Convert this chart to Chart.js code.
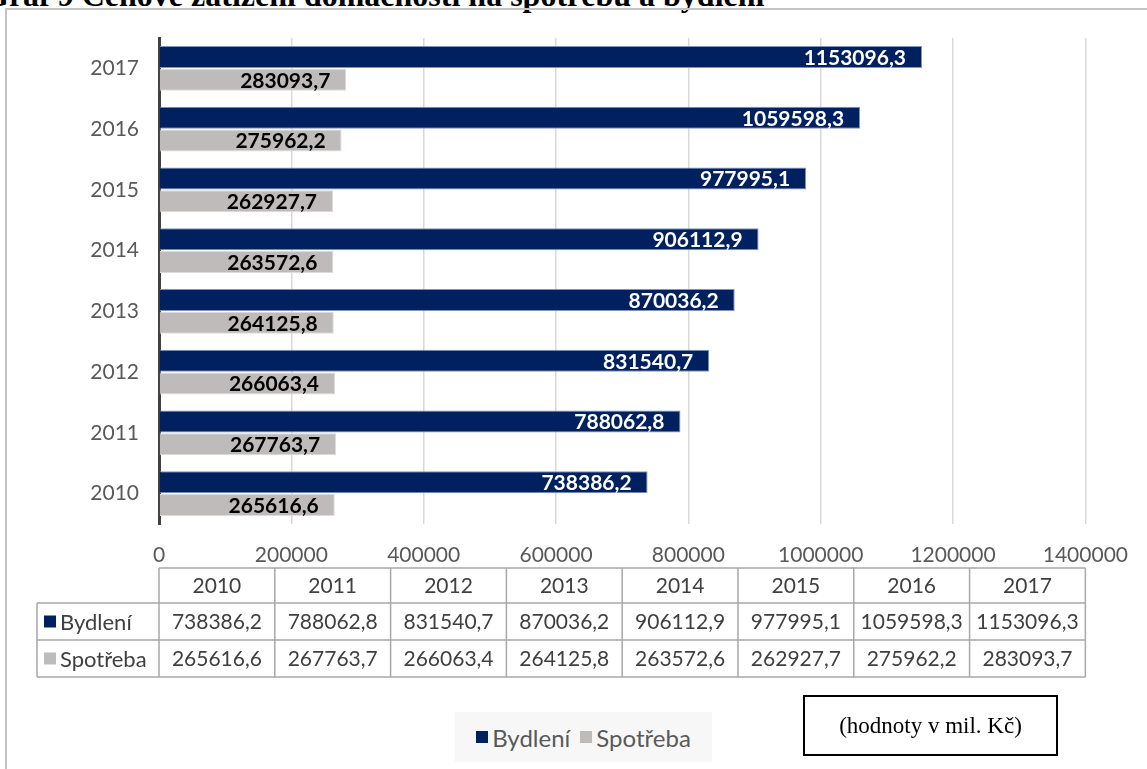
<!DOCTYPE html>
<html>
<head>
<meta charset="utf-8">
<script src="https://cdn.jsdelivr.net/npm/chart.js@4"></script>
<style>
  html, body { margin: 0; padding: 0; background: #fff; }
  body { width: 1147px; height: 769px; position: relative; overflow: hidden; }
  #frame { position: absolute; left: 5px; top: 8px; width: 1160px; height: 780px;
           border-left: 2px solid #c4c4c4; border-top: 2px solid #c4c4c4; }
  #title { position: absolute; left: -16px; top: -23px; white-space: nowrap; line-height: 32px;
           font: bold 32px "Liberation Serif", "Times New Roman", serif; color: #000; }
  #chart { position: absolute; left: 0; top: 0; }
  #legend { position: absolute; left: 455px; top: 712px; width: 257px; height: 50px;
            background: #f7f7f7; display: flex; align-items: center; justify-content: center;
            font: 24px Lato, sans-serif; color: #595959; }
  #legend span.key { display: inline-block; width: 12px; height: 12px; margin-right: 4px; }
  #legend span.item { margin: 0 5px; display: inline-flex; align-items: center; }
  #note { position: absolute; left: 803px; top: 695px; width: 251px; height: 57px;
          border: 2px solid #000; display: flex; align-items: center; justify-content: center;
          font: 23px "Liberation Serif", "Times New Roman", serif; color: #000; }
</style>
</head>
<body>
<div id="title">Graf 9 Cenové zatížení domácností na spotřebu a bydlení</div>
<div id="frame"></div>
<canvas id="chart" width="1147" height="769"></canvas>
<div id="legend"></div>
<div id="note">(hodnoty v mil. Kč)</div>
<script>
  var years = ['2010', '2011', '2012', '2013', '2014', '2015', '2016', '2017'];
  var bydleni = [738386.2, 788062.8, 831540.7, 870036.2, 906112.9, 977995.1, 1059598.3, 1153096.3];
  var spotreba = [265616.6, 267763.7, 266063.4, 264125.8, 263572.6, 262927.7, 275962.2, 283093.7];
  var xTicks = [0, 200000, 400000, 600000, 800000, 1000000, 1200000, 1400000];

  var navy = '#002060';
  var grey = '#bfbbbb';
  var font = 'Lato, sans-serif';

  // Czech decimal comma
  function fmt(v) { return v.toFixed(1).replace('.', ','); }

  // value labels inside bar ends
  var barLabels = {
    id: 'barLabels',
    afterDatasetsDraw: function (chart) {
      var ctx = chart.ctx;
      ctx.save();
      ctx.font = 'bold 21px ' + font;
      ctx.textAlign = 'right';
      ctx.textBaseline = 'middle';
      chart.data.datasets.forEach(function (ds, i) {
        var meta = chart.getDatasetMeta(i);
        ctx.fillStyle = i === 0 ? '#ffffff' : '#000000';
        meta.data.forEach(function (bar, j) {
          ctx.fillText(fmt(ds.data[j]), bar.x - 16, bar.y + 1);
        });
      });
      ctx.restore();
    }
  };

  // data table under the axis
  var dataTable = {
    id: 'dataTable',
    afterDraw: function (chart) {
      var ctx = chart.ctx;
      var a = chart.chartArea;
      var left = a.left, right = a.right;
      var colW = (right - left) / years.length;
      var top = a.bottom + 44;
      var rowH = [35, 37, 37];
      var y1 = top + rowH[0], y2 = y1 + rowH[1], y3 = y2 + rowH[2];
      var labelLeft = 37;

      ctx.save();
      ctx.strokeStyle = '#a8a8a8';
      ctx.lineWidth = 1.5;
      ctx.beginPath();
      ctx.moveTo(left, top); ctx.lineTo(right, top);
      ctx.moveTo(labelLeft, y1); ctx.lineTo(right, y1);
      ctx.moveTo(labelLeft, y2); ctx.lineTo(right, y2);
      ctx.moveTo(labelLeft, y3); ctx.lineTo(right, y3);
      ctx.moveTo(labelLeft, y1); ctx.lineTo(labelLeft, y3);
      for (var c = 0; c <= years.length; c++) {
        var x = left + c * colW;
        ctx.moveTo(x, top); ctx.lineTo(x, y3);
      }
      ctx.stroke();

      ctx.fillStyle = '#404040';
      ctx.font = '21px ' + font;
      ctx.textAlign = 'center';
      ctx.textBaseline = 'middle';
      years.forEach(function (yr, k) {
        var cx = left + (k + 0.5) * colW;
        ctx.fillText(yr, cx, (top + y1) / 2 + 1);
        ctx.fillText(fmt(bydleni[k]), cx, (y1 + y2) / 2 + 1);
        ctx.fillText(fmt(spotreba[k]), cx, (y2 + y3) / 2 + 1);
      });

      ctx.textAlign = 'left';
      ctx.font = '22px ' + font;
      [['Bydlení', navy, y1, y2], ['Spotřeba', grey, y2, y3]].forEach(function (r) {
        var cy = (r[2] + r[3]) / 2;
        ctx.fillStyle = r[1];
        ctx.fillRect(labelLeft + 7, cy - 6, 12, 12);
        ctx.fillStyle = '#404040';
        ctx.fillText(r[0], labelLeft + 23, cy + 1);
      });
      ctx.restore();
    }
  };

  var chart = new Chart(document.getElementById('chart'), {
    type: 'bar',
    data: {
      labels: years,
      datasets: [
        { label: 'Bydlení', data: bydleni, backgroundColor: navy,
          borderColor: '#8393b8', borderWidth: 1 },
        { label: 'Spotřeba', data: spotreba, backgroundColor: grey,
          borderColor: '#dcdcdc', borderWidth: 1 }
      ]
    },
    options: {
      indexAxis: 'y',
      responsive: false,
      animation: false,
      events: [],
      layout: { padding: { top: 38, right: 61, bottom: 200, left: 0 } },
      datasets: { bar: { categoryPercentage: 0.75, barPercentage: 0.97 } },
      plugins: { legend: { display: false }, tooltip: { enabled: false } },
      scales: {
        x: {
          min: 0, max: 1400000,
          afterBuildTicks: function (s) { s.ticks = xTicks.map(function (v) { return { value: v }; }); },
          afterFit: function (s) { s.height = 45; },
          grid: { color: '#d9d9d9', lineWidth: 1.5, drawTicks: false },
          border: { display: false },
          ticks: { color: '#595959', font: { family: font, size: 21 }, padding: 19,
                   callback: function (v) { return String(v); } }
        },
        y: {
          reverse: true,
          afterFit: function (s) { s.width = 159; },
          grid: { display: false, drawTicks: false },
          border: { color: '#404040', width: 3 },
          ticks: { color: '#595959', font: { family: font, size: 21 }, padding: 20 }
        }
      }
    },
    plugins: [barLabels, dataTable]
  });

  // legend below the table
  var legend = document.getElementById('legend');
  chart.data.datasets.forEach(function (ds) {
    var item = document.createElement('span');
    item.className = 'item';
    item.innerHTML = '<span class="key" style="background:' + ds.backgroundColor + '"></span>' + ds.label;
    legend.appendChild(item);
  });
</script>
</body>
</html>
